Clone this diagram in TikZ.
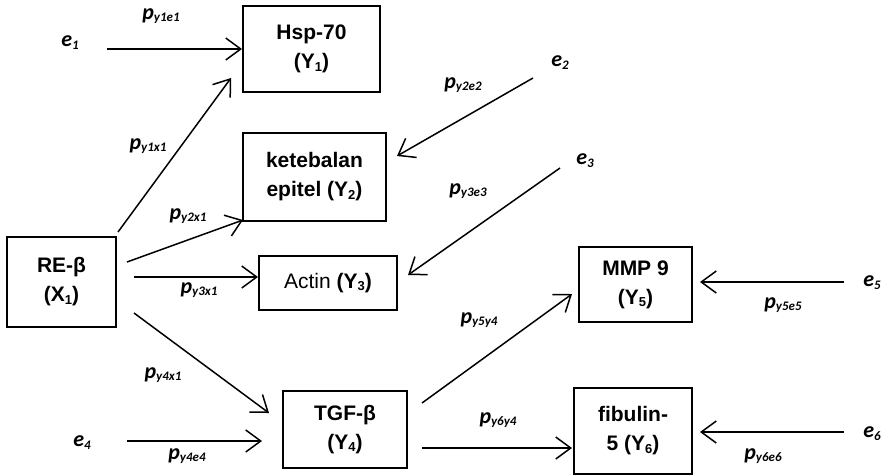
\documentclass[tikz,border=0pt]{standalone}
\usepackage{fontspec}
\setmainfont{Liberation Sans}
\newfontfamily\labfont{Carlito}
\usetikzlibrary{arrows.meta}
\newcommand{\sbb}[1]{\raisebox{-2.5pt}{\fontsize{13}{13}\selectfont #1}}
\newcommand{\psub}[1]{{\labfont\bfseries\itshape\fontsize{22}{22}\selectfont p\raisebox{-2pt}{\fontsize{13}{13}\selectfont #1}}}
\newcommand{\evar}[1]{{\labfont\bfseries\itshape\fontsize{22}{22}\selectfont e\raisebox{-3pt}{\fontsize{13}{13}\selectfont #1}}}
\begin{document}
\begin{tikzpicture}[x=1pt,y=-1pt,
  box/.style={draw, line width=2pt, align=center, inner sep=0pt, font=\bfseries\fontsize{21}{29}\selectfont},
  lab/.style={inner sep=0pt},
  arr/.style={line width=1.5pt, -{Straight Barb[length=15pt,width=22pt,line width=1.5pt]}}]
\useasboundingbox (0,0) rectangle (890,475);
% boxes
\node[box, minimum width=137, minimum height=86] (y1) at (311.5,49) {Hsp-70\\(Y\sbb{1})};
\node[box, minimum width=143, minimum height=88] (y2) at (314.5,177) {ketebalan\\epitel (Y\sbb{2})};
\node[box, minimum width=109, minimum height=90] (x1) at (61.5,282) {RE-β\\(X\sbb{1})};
\node[box, minimum width=138, minimum height=54] (y3) at (328,283) {\mdseries Actin \bfseries(Y\sbb{3})};
\node[box, minimum width=124, minimum height=77] (y4) at (345,429.5) {TGF-β\\(Y\sbb{4})};
\node[box, minimum width=113, minimum height=75] (y5) at (635.5,284.5) {MMP 9\\(Y\sbb{5})};
\node[box, minimum width=118, minimum height=86] (y6) at (633,431) {fibulin-\\5 (Y\sbb{6})};
% error terms
\node[lab] (e1) at (70,43) {\evar{1}};
\node[lab] (e2) at (560,63) {\evar{2}};
\node[lab] (e3) at (585,161) {\evar{3}};
\node[lab] (e4) at (82,443) {\evar{4}};
\node[lab] (e5) at (872,283) {\evar{5}};
\node[lab] (e6) at (872,434) {\evar{6}};
% coordinates for arrow ends
\coordinate (a1s) at (107,49);  \coordinate (a1t) at (242,49);
\coordinate (b1s) at (118,232); \coordinate (b1t) at (231,78);
\coordinate (b2s) at (127,262); \coordinate (b2t) at (243,220);
\coordinate (b3s) at (134,277); \coordinate (b3t) at (258,277);
\coordinate (b4s) at (134,313); \coordinate (b4t) at (269,413);
\coordinate (a4s) at (127,441); \coordinate (a4t) at (262,441);
\coordinate (a2s) at (533,78);  \coordinate (a2t) at (397,156);
\coordinate (a3s) at (560,168); \coordinate (a3t) at (408,275);
\coordinate (c5s) at (422,403); \coordinate (c5t) at (572,294);
\coordinate (c6s) at (422,448); \coordinate (c6t) at (572,448);
\coordinate (a5s) at (844,282); \coordinate (a5t) at (700,282);
\coordinate (a6s) at (844,432); \coordinate (a6t) at (700,432);
% arrows
\draw[arr] (a1s) -- (a1t);
\draw[arr] (b1s) -- (b1t);
\draw[arr] (b2s) -- (b2t);
\draw[arr] (b3s) -- (b3t);
\draw[arr] (b4s) -- (b4t);
\draw[arr] (a4s) -- (a4t);
\draw[arr] (a2s) -- (a2t);
\draw[arr] (a3s) -- (a3t);
\draw[arr] (c5s) -- (c5t);
\draw[arr] (c6s) -- (c6t);
\draw[arr] (a5s) -- (a5t);
\draw[arr] (a6s) -- (a6t);
% path labels
\node[lab] (l1) at (161,16) {\psub{y1e1}};
\node[lab] (l2) at (148,146) {\psub{y1x1}};
\node[lab] (l3) at (188,216) {\psub{y2x1}};
\node[lab] (l4) at (199,290) {\psub{y3x1}};
\node[lab] (l5) at (163,375) {\psub{y4x1}};
\node[lab] (l6) at (187,456) {\psub{y4e4}};
\node[lab] (l7) at (463,85) {\psub{y2e2}};
\node[lab] (l8) at (468,191) {\psub{y3e3}};
\node[lab] (l9) at (479,320) {\psub{y5y4}};
\node[lab] (l10) at (498,420) {\psub{y6y4}};
\node[lab] (l11) at (783,305) {\psub{y5e5}};
\node[lab] (l12) at (763,456) {\psub{y6e6}};
\end{tikzpicture}
\end{document}
